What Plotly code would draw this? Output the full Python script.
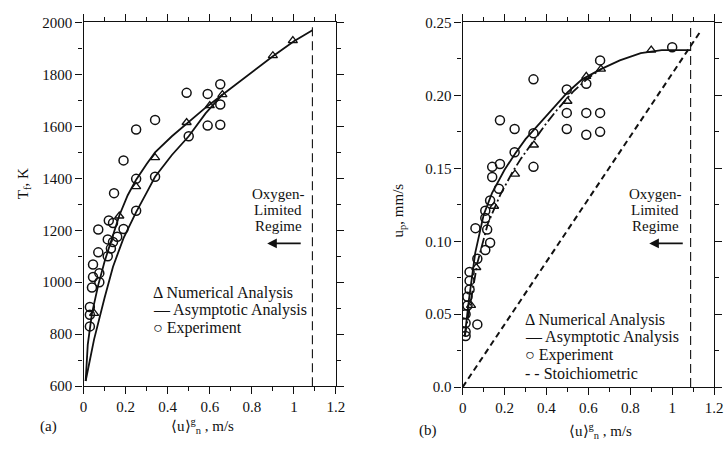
import plotly.graph_objects as go

# ---------------- panel (a): flame temperature ----------------
num_a_x = [0.05, 0.17, 0.25, 0.34, 0.49, 0.60, 0.66, 0.90, 0.995]
num_a_y = [880, 1255, 1368, 1480, 1615, 1680, 1722, 1872, 1930]

asym_a1_x = [0.01, 0.02, 0.04, 0.07, 0.10, 0.13, 0.17, 0.21, 0.25, 0.30, 0.34, 0.42,
             0.50, 0.58, 0.66, 0.75, 0.85, 0.90, 1.00, 1.088]
asym_a1_y = [620, 760, 880, 990, 1080, 1160, 1257, 1335, 1395, 1455, 1500, 1562,
             1617, 1672, 1722, 1778, 1840, 1870, 1928, 1970]

asym_a2_x = [0.01, 0.05, 0.10, 0.14, 0.19, 0.25, 0.30, 0.34, 0.42, 0.50, 0.58, 0.66]
asym_a2_y = [620, 780, 940, 1060, 1170, 1270, 1345, 1406, 1490, 1562, 1650, 1722]

exp_a_x = [0.03, 0.03, 0.03, 0.04, 0.075, 0.045, 0.075, 0.045, 0.07, 0.115, 0.13, 0.14,
           0.115, 0.16, 0.07, 0.19, 0.14, 0.12, 0.25, 0.145, 0.25, 0.34, 0.19, 0.25,
           0.34, 0.50, 0.49, 0.59, 0.59, 0.65, 0.65, 0.65]
exp_a_y = [830, 875, 905, 980, 1000, 1020, 1035, 1068, 1115, 1100, 1130, 1155,
           1165, 1175, 1203, 1205, 1228, 1238, 1275, 1343, 1398, 1406, 1469, 1588,
           1625, 1562, 1729, 1725, 1603, 1606, 1684, 1762]

# ---------------- panel (b): burning velocity ----------------
num_b_x = [0.04, 0.065, 0.15, 0.25, 0.34, 0.50, 0.59, 0.66, 0.90]
num_b_y = [0.056, 0.082, 0.124, 0.146, 0.166, 0.196, 0.213, 0.218, 0.231]

asym_b1_x = [0.01, 0.03, 0.06, 0.10, 0.14, 0.20, 0.25, 0.30, 0.375, 0.45, 0.50, 0.57,
             0.66, 0.75, 0.85, 0.95, 1.088]
asym_b1_y = [0.035, 0.060, 0.092, 0.118, 0.133, 0.149, 0.160, 0.170, 0.182, 0.194, 0.202,
             0.211, 0.218, 0.224, 0.229, 0.231, 0.231]

asym_b2_x = [0.01, 0.035, 0.07, 0.12, 0.18, 0.24, 0.28, 0.34, 0.40, 0.45, 0.50, 0.53,
             0.60, 0.66]
asym_b2_y = [0.035, 0.056, 0.085, 0.112, 0.132, 0.148, 0.157, 0.169, 0.181, 0.190, 0.198,
             0.203, 0.212, 0.218]

exp_b_x = [0.014, 0.014, 0.014, 0.014, 0.023, 0.023, 0.033, 0.033, 0.033, 0.07, 0.07,
           0.108, 0.131, 0.061, 0.117, 0.108, 0.108, 0.131, 0.173, 0.141, 0.141, 0.178,
           0.248, 0.338, 0.178, 0.248, 0.338, 0.338, 0.497, 0.497, 0.497, 0.59, 0.656,
           0.59, 0.656, 0.59, 0.656, 1.0]
exp_b_y = [0.035, 0.038, 0.044, 0.050, 0.056, 0.062, 0.067, 0.073, 0.079, 0.088, 0.043,
           0.094, 0.099, 0.109, 0.108, 0.116, 0.121, 0.128, 0.136, 0.144, 0.151, 0.153,
           0.161, 0.151, 0.183, 0.177, 0.174, 0.211, 0.204, 0.188, 0.177, 0.188, 0.188,
           0.173, 0.175, 0.208, 0.224, 0.233]

stoich_x = [0.0, 1.14]
stoich_y = [0.0, 0.245]

oxygen_limit = 1.088          # boundary of the oxygen-limited regime, m/s
ylim_a = [600, 2000]
ylim_b = [0.0, 0.25]
xlim = [0, 1.2]

# major / minor tick steps per axis
x_step, x_minor_step = 0.2, 0.1
ya_step, ya_minor_step = 200, 100
yb_step, yb_minor_step = 0.05, 0.025
yb_label_alias = {"0": "0.0", "0.1": "0.10", "0.2": "0.20"}

legend_a = ["\u0394 Numerical Analysis", "\u2014 Asymptotic Analysis", "\u25cb Experiment"]
legend_b = legend_a + ["- - Stoichiometric"]

FONT = "Liberation Serif, Times New Roman, serif"
INK = "#111111"

fig = go.Figure()

def add_panel(xa, ya, num_x, num_y, c1x, c1y, c2x, c2y, c2dash, ex, ey, ytop, ybot):
    fig.add_trace(go.Scatter(x=c1x, y=c1y, mode="lines", xaxis=xa, yaxis=ya,
                             line=dict(color=INK, width=1.8), showlegend=False))
    fig.add_trace(go.Scatter(x=c2x, y=c2y, mode="lines", xaxis=xa, yaxis=ya,
                             line=dict(color=INK, width=1.8, dash=c2dash), showlegend=False))
    fig.add_trace(go.Scatter(x=ex, y=ey, mode="markers", xaxis=xa, yaxis=ya,
                             marker=dict(symbol="circle-open", size=9, color=INK,
                                         line=dict(width=1.5, color=INK)),
                             showlegend=False))
    fig.add_trace(go.Scatter(x=num_x, y=num_y, mode="markers", xaxis=xa, yaxis=ya,
                             marker=dict(symbol="triangle-up-open", size=8, color=INK,
                                         line=dict(width=1.3, color=INK)),
                             showlegend=False))
    fig.add_trace(go.Scatter(x=[oxygen_limit, oxygen_limit], y=[ybot, ytop], mode="lines",
                             xaxis=xa, yaxis=ya,
                             line=dict(color=INK, width=1.1, dash="9px,5px"),
                             showlegend=False))

add_panel("x", "y", num_a_x, num_a_y, asym_a1_x, asym_a1_y, asym_a2_x, asym_a2_y, "solid",
          exp_a_x, exp_a_y, ylim_a[1], ylim_a[0])
add_panel("x2", "y2", num_b_x, num_b_y, asym_b1_x, asym_b1_y, asym_b2_x, asym_b2_y,
          "10px,3px,2px,3px", exp_b_x, exp_b_y, ylim_b[1], ylim_b[0])
fig.add_trace(go.Scatter(x=stoich_x, y=stoich_y, mode="lines", xaxis="x2", yaxis="y2",
                         line=dict(color=INK, width=2.0, dash="6px,4px"), showlegend=False))

W, H = 728, 453
def px(v):
    return v / W
def py(v):
    return 1 - v / H

def axis(domain, rng, anchor, step, minor_step, **extra):
    d = dict(
        domain=domain, range=rng, anchor=anchor,
        tickmode="linear", tick0=rng[0], dtick=step,
        showline=True, linecolor=INK, linewidth=1.4, mirror="ticks",
        ticks="outside", ticklen=7, tickwidth=1.2, tickcolor=INK,
        showgrid=False, zeroline=False,
        tickfont=dict(family=FONT, size=15, color=INK),
        minor=dict(tick0=rng[0], dtick=minor_step, ticks="outside", ticklen=4,
                   tickwidth=1.1, tickcolor=INK, showgrid=False),
    )
    d.update(extra)
    return d

fig.update_layout(
    width=W, height=H,
    margin=dict(l=0, r=0, t=0, b=0),
    paper_bgcolor="white", plot_bgcolor="white",
    font=dict(family=FONT, size=15, color=INK),
    showlegend=False,
    xaxis=axis([px(81), px(338)], xlim, "y", x_step, x_minor_step),
    yaxis=axis([py(392), py(15)], ylim_a, "x", ya_step, ya_minor_step),
    xaxis2=axis([px(467), px(723)], xlim, "y2", x_step, x_minor_step),
    yaxis2=axis([py(393), py(15)], ylim_b, "x2", yb_step, yb_minor_step,
                labelalias=yb_label_alias),
)

ann = []
def text(x, y, s, size=15, xanchor="center", yanchor="middle", angle=0):
    ann.append(dict(x=px(x), y=py(y), xref="paper", yref="paper", text=s, showarrow=False,
                    xanchor=xanchor, yanchor=yanchor, textangle=angle,
                    font=dict(family=FONT, size=size, color=INK)))

# axis titles and panel tags
text(20, 182, "T<sub>f</sub>, K", angle=-90)
text(402, 210, "u<sub>p</sub>, mm/s", angle=-90)
text(202, 433, "\u27e8u\u27e9<sup>g</sup><sub>n</sub> , m/s")
text(607, 438, "\u27e8u\u27e9<sup>g</sup><sub>n</sub> , m/s")
text(45, 434, "(a)")
text(432, 438, "(b)")

# regime notes
for cx in (279, 663):
    for i, s in enumerate(["Oxygen-", "Limited", "Regime"]):
        text(cx, 193 + 16.5 * i, s)

# legend entries
for i, s in enumerate(legend_a):
    text(150, 295 + 18.5 * i, s, size=16, xanchor="left")
for i, s in enumerate(legend_b):
    text(528, 323 + 18.5 * i, s, size=16, xanchor="left")

# arrows pointing into the oxygen-limited regime
for hx in (268, 657):
    ann.append(dict(x=px(hx), y=py(244), xref="paper", yref="paper", ax=35, ay=0,
                    showarrow=True, arrowhead=2, arrowsize=1.2, arrowwidth=1.6,
                    arrowcolor=INK, text=""))

fig.update_layout(annotations=ann)
fig.write_html("out.html")
